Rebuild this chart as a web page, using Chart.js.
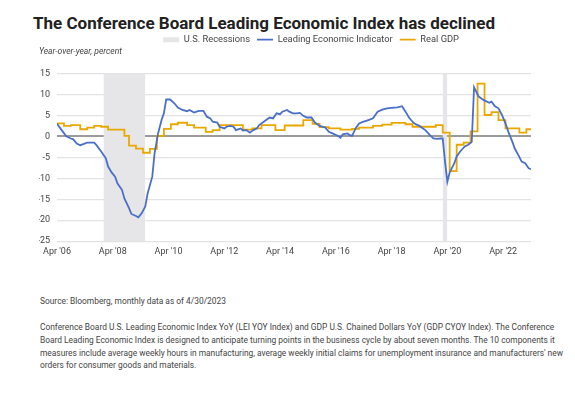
<!DOCTYPE html>
<html>
<head>
<meta charset="utf-8">
<script src="https://cdn.jsdelivr.net/npm/chart.js@4.4.1/dist/chart.umd.min.js"></script>
<style>
html, body { margin: 0; padding: 0; background: #fff; overflow: hidden; }
body { width: 575px; height: 400px; position: relative; font-family: Roboto, "Liberation Sans", sans-serif; color: #333; }
h1 { position: absolute; left: 33px; top: 13px; margin: 0; font-size: 17px; line-height: 20px; font-weight: 700; color: #222; white-space: nowrap; }
#wrap { position: absolute; left: 0; top: 28px; width: 575px; height: 234px; }
.note { position: absolute; left: 40px; margin: 0; font-size: 8.4px; line-height: 12.8px; white-space: nowrap; color: #444; }
</style>
</head>
<body>
<h1>The Conference Board Leading Economic Index has declined</h1>
<div id="wrap"><canvas id="leiChart"></canvas></div>
<p class="note" style="top:295px">Source: Bloomberg, monthly data as of 4/30/2023</p>
<p class="note" style="top:321px">Conference Board U.S. Leading Economic Index YoY (LEI YOY Index) and GDP U.S. Chained Dollars YoY (GDP CYOY Index). The Conference<br>Board Leading Economic Index is designed to anticipate turning points in the business cycle by about seven months. The 10 components it<br>measures include average weekly hours in manufacturing, average weekly initial claims for unemployment insurance and manufacturers' new<br>orders for consumer goods and materials.</p>
<script>
// months counted from Apr 2006
const xTickLabels = ["Apr '06", "Apr '08", "Apr '10", "Apr '12", "Apr '14", "Apr '16", "Apr '18", "Apr '20", "Apr '22"];

const leiMonths = [0, 2, 4, 6, 7, 8.5, 10, 11, 13, 16, 17, 19, 21, 22, 23.5, 25, 26, 28, 29, 31, 32, 34, 35, 36.5, 38, 39, 41, 42, 43.5, 45, 46, 47, 48.7, 50.5,
  52, 54, 56, 57, 59, 61, 63, 64.5, 66, 67, 69, 70, 72, 73, 74.5, 76, 77, 79, 80, 81.5, 83, 84.5, 86, 87, 89, 90, 91.5, 93, 94.5, 96, 97, 99, 100, 101.5,
  103, 104.5, 106, 107.5, 109.5, 111, 113, 115.5, 117, 119, 121, 122, 123, 125, 126, 127, 128.5, 130, 132, 134, 136, 138, 140, 142, 144, 146.5, 148.5,
  150, 151.5, 153, 154, 156, 158.5, 160.5, 162, 163.5, 165, 166, 167, 168, 169, 171, 172, 173.5, 175.5, 177, 178.5, 179.5, 181.5, 183.5, 186, 187,
  188.5, 190, 191.5, 193, 194.5, 196, 197, 198.5, 200, 201.5, 203, 204];
const leiValues = [3.0, 1.5, 0.0, -0.5, -0.7, -1.7, -2.1, -1.9, -1.5, -1.5, -2.1, -3.6, -5.2, -7.2, -8.6, -9.6, -11.2, -12.8, -14.8, -17.1, -18.5, -19.0, -19.3, -18.3, -16.7, -13.6, -9.6, -4.0, 0.7, 3.9, 5.5, 8.8, 8.8, 7.9,
  6.9, 6.3, 6.0, 6.3, 5.7, 6.1, 6.1, 4.7, 4.3, 3.5, 3.3, 2.3, 1.9, 2.3, 2.5, 2.3, 1.5, 1.9, 1.4, 1.5, 0.9, 1.5, 1.9, 2.7, 3.5, 3.9, 4.5, 4.3, 5.5, 5.3, 5.9, 6.3, 5.9, 5.5,
  5.5, 5.6, 4.9, 4.5, 4.5, 3.3, 2.5, 2.1, 1.1, 0.6, 0.1, -0.3, 0.5, 0.7, 0.3, 0.1, 1.9, 3.1, 3.5, 3.9, 4.3, 5.9, 6.4, 6.7, 6.8, 6.9, 7.2,
  5.9, 4.5, 3.5, 3.0, 2.5, 1.5, 0.3, -0.5, -0.6, -0.5, -0.5, -6.0, -10.8, -8.6, -6.4, -4.8, -3.6, -2.4, -2.0, -1.3, 11.7, 9.5, 8.7, 8.0, 8.3,
  7.2, 6.7, 5.1, 3.1, 0.7, -1.3, -2.9, -4.4, -6.0, -6.4, -7.6, -7.8];

const gdpMonths = [0, 3, 6, 10, 13, 16, 19, 22, 29, 31, 34, 37, 40, 43, 46, 49, 52, 56, 59, 64, 67, 70, 80, 84, 88, 94, 98, 106, 110, 113, 117, 122,
  127, 130, 136, 140, 144, 150, 153, 163, 166, 169, 172, 175, 178, 181, 184, 187, 190, 193, 199, 202, 204];
const gdpValues = [3.1, 2.5, 2.7, 1.7, 2.1, 2.5, 2.3, 1.6, 0.1, -2.2, -2.9, -3.9, -3.0, 0.1, 1.8, 2.9, 3.25, 2.7, 2.1, 1.1, 1.5, 2.7, 1.6, 1.9, 2.7, 1.5, 2.6, 3.9, 3.0, 2.2, 1.9, 1.6,
  1.8, 2.1, 2.5, 2.8, 3.2, 2.9, 2.3, 2.7, 0.9, -8.3, -2.0, -1.5, 1.2, 12.6, 5.1, 5.8, 3.9, 1.9, 0.9, 1.7, 1.7];

// Dec 2007 - Jun 2009, Feb 2020 - Apr 2020
const recessionStart = [20, 166];
const recessionEnd = [38, 168];

const yMin = -25;
const yMax = 15;

function toPoints(xs, ys) {
  return xs.map((x, i) => ({ x: x, y: ys[i] }));
}

const recessionBands = [];
recessionStart.forEach((s, i) => {
  recessionBands.push({ x: s, y: yMax }, { x: recessionEnd[i], y: yMax }, { x: recessionEnd[i] + 0.5, y: null });
});

const tickFont = { family: 'Roboto, "Liberation Sans", sans-serif', size: 9 };

// nudge the legend to the right so it sits where the original one does
const legendShift = {
  id: 'legendShift',
  afterLayout(chart) {
    chart.legend.left += 26;
    chart.legend.right += 26;
  }
};

new Chart(document.getElementById('leiChart'), {
  type: 'line',
  data: {
    datasets: [{
      label: 'U.S. Recessions',
      data: recessionBands,
      backgroundColor: '#e6e6e8',
      borderColor: 'rgba(0,0,0,0)',
      borderWidth: 0,
      pointRadius: 0,
      pointStyle: 'rect',
      spanGaps: false,
      fill: 'start'
    }, {
      label: 'Leading Economic Indicator',
      data: toPoints(leiMonths, leiValues),
      borderColor: '#4a6fc9',
      backgroundColor: '#4a6fc9',
      borderWidth: 1.8,
      pointRadius: 0,
      pointStyle: 'line',
      fill: false
    }, {
      label: 'Real GDP',
      data: toPoints(gdpMonths, gdpValues),
      borderColor: '#e9a800',
      backgroundColor: '#e9a800',
      borderWidth: 1.8,
      pointRadius: 0,
      pointStyle: 'line',
      stepped: true,
      fill: false
    }]
  },
  options: {
    responsive: true,
    maintainAspectRatio: false,
    animation: false,
    layout: { padding: { left: 39, right: 44, top: 0, bottom: 0 } },
    scales: {
      x: {
        type: 'linear',
        min: 0,
        max: 204,
        grid: { display: false, drawTicks: false },
        border: { display: false },
        ticks: {
          stepSize: 24,
          includeBounds: false,
          autoSkip: false,
          maxRotation: 0,
          padding: 5,
          color: '#444',
          font: tickFont,
          callback: (v) => xTickLabels[v / 24]
        }
      },
      y: {
        min: yMin,
        max: yMax,
        afterFit: (scale) => { scale.width = 18; },
        border: { display: false },
        grid: {
          drawTicks: false,
          color: (c) => c.tick.value === 0 ? '#9b9b9b' : '#e3e3e3',
          lineWidth: (c) => c.tick.value === 0 ? 2 : 1.3
        },
        ticks: { stepSize: 5, padding: 7, color: '#444', font: tickFont }
      }
    },
    plugins: {
      filler: { drawTime: 'beforeDatasetsDraw' },
      legend: {
        position: 'top',
        labels: {
          usePointStyle: true,
          pointStyleWidth: 16,
          boxHeight: 5,
          padding: 7,
          color: '#444',
          font: { family: 'Roboto, "Liberation Sans", sans-serif', size: 9.3 }
        }
      },
      subtitle: {
        display: true,
        text: 'Year-over-year, percent',
        align: 'start',
        weight: 500,
        color: '#444',
        font: { family: 'Roboto, "Liberation Sans", sans-serif', size: 8.5, style: 'italic' },
        padding: { top: -8, bottom: 17 }
      },
      tooltip: { enabled: false }
    }
  },
  plugins: [legendShift]
});
</script>
</body>
</html>
